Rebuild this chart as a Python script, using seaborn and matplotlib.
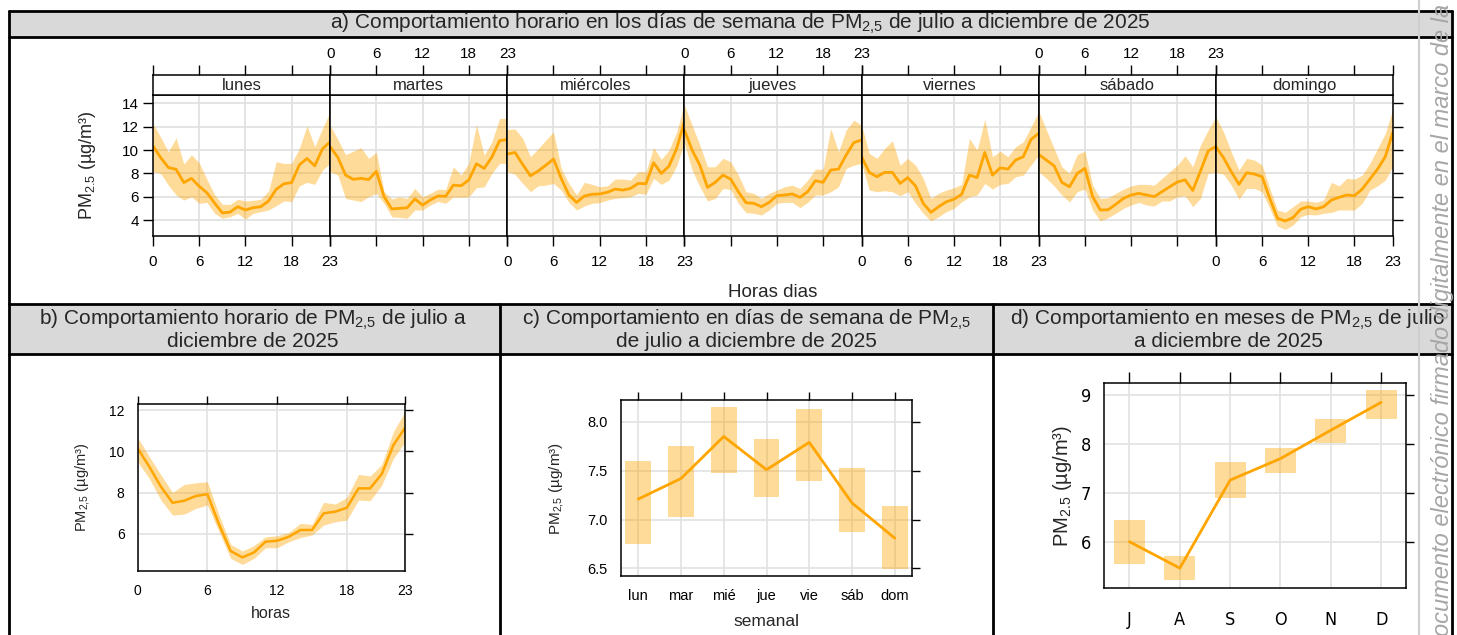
import numpy as np
import pandas as pd
import matplotlib
matplotlib.use("Agg")
import matplotlib.pyplot as plt
import seaborn as sns
from matplotlib.patches import Rectangle
from matplotlib import font_manager as fm

# ---------------- data ----------------
hours = list(range(24))
days = ["lunes", "martes", "miércoles", "jueves", "viernes", "sábado", "domingo"]

lunes_mean = [10.35, 9.35, 8.5, 8.35, 7.22, 7.58, 6.9, 6.35, 5.47, 4.63, 4.7, 5.16, 4.88, 5.08, 5.16, 5.65, 6.65, 7.12, 7.22, 8.73, 9.28, 8.65, 10.1, 10.7]
lunes_lo = [8.15, 8.0, 7.0, 6.16, 5.73, 6.0, 5.45, 5.53, 4.6, 4.17, 4.3, 4.6, 4.1, 4.6, 4.74, 4.88, 5.25, 5.65, 5.6, 6.94, 7.24, 7.07, 8.29, 8.86]
lunes_hi = [12.27, 11.08, 9.85, 11.05, 8.8, 9.6, 8.9, 7.5, 6.2, 5.36, 5.36, 5.8, 5.65, 5.7, 5.8, 6.5, 9.0, 8.86, 8.86, 10.14, 12.07, 10.28, 11.84, 13.26]

martes_mean = [10.28, 9.37, 7.86, 7.5, 7.58, 7.48, 8.18, 6.02, 4.97, 5.02, 5.07, 5.82, 5.3, 5.73, 6.08, 6.05, 7.0, 6.95, 7.44, 8.83, 8.43, 9.4, 10.8, 10.9]
martes_lo = [8.15, 7.86, 5.87, 5.73, 5.6, 6.02, 6.3, 5.45, 4.3, 4.25, 4.17, 4.88, 4.88, 5.3, 5.6, 5.45, 6.0, 5.95, 6.0, 6.78, 6.85, 8.0, 8.86, 8.86]
martes_hi = [12.1, 10.9, 9.6, 9.9, 10.2, 9.29, 9.8, 6.44, 5.82, 6.0, 5.87, 6.72, 6.0, 6.3, 6.66, 6.63, 8.57, 7.86, 8.86, 12.18, 9.57, 10.7, 12.7, 12.7]

miercoles_mean = [9.65, 9.79, 8.77, 7.8, 8.2, 8.7, 9.23, 7.58, 6.16, 5.53, 6.07, 6.22, 6.25, 6.39, 6.66, 6.58, 6.72, 7.15, 7.12, 8.91, 8.0, 8.63, 10.14, 12.45]
miercoles_lo = [8.15, 7.93, 7.15, 6.44, 6.94, 7.0, 7.15, 6.58, 5.53, 4.88, 5.22, 5.45, 5.5, 5.73, 5.87, 5.93, 6.0, 6.3, 6.22, 7.58, 7.07, 7.43, 8.65, 10.7]
miercoles_hi = [11.75, 11.8, 11.0, 9.43, 10.1, 10.85, 11.55, 8.43, 7.15, 6.16, 7.24, 7.07, 6.86, 6.94, 7.52, 7.52, 7.43, 8.15, 8.15, 10.22, 9.2, 10.0, 11.55, 14.0]

jueves_mean = [11.7, 9.99, 8.71, 6.81, 7.24, 7.86, 7.52, 6.44, 5.5, 5.45, 5.16, 5.53, 6.1, 6.16, 6.25, 5.96, 6.44, 7.38, 7.24, 8.29, 8.37, 9.57, 10.64, 10.85]
jueves_lo = [10.56, 8.29, 6.86, 5.65, 5.87, 6.72, 6.63, 5.45, 4.65, 4.6, 4.45, 4.88, 5.45, 5.53, 5.53, 5.08, 5.53, 6.16, 6.16, 6.44, 6.86, 8.43, 8.71, 8.86]
jueves_hi = [13.83, 12.12, 10.42, 8.57, 8.57, 9.29, 9.0, 7.86, 6.44, 6.3, 5.87, 6.3, 6.58, 6.86, 7.0, 6.72, 7.43, 8.37, 8.37, 11.84, 9.85, 11.7, 12.55, 12.12]

viernes_mean = [9.43, 8.09, 7.72, 8.09, 8.09, 7.15, 7.64, 6.94, 5.45, 4.68, 5.16, 5.58, 5.8, 6.22, 7.86, 7.65, 9.79, 7.86, 8.48, 8.37, 9.14, 9.43, 10.9, 11.42]
viernes_lo = [8.86, 6.58, 6.44, 6.52, 6.44, 6.1, 6.44, 5.45, 4.6, 3.94, 4.3, 4.74, 5.02, 5.58, 6.0, 6.16, 7.15, 6.66, 7.07, 7.15, 7.72, 7.86, 8.71, 9.57]
viernes_hi = [12.12, 9.71, 9.29, 10.14, 10.79, 8.71, 9.29, 8.71, 7.58, 5.87, 6.3, 6.58, 6.78, 7.07, 10.99, 9.99, 12.63, 9.43, 9.91, 9.43, 10.28, 10.7, 11.98, 13.26]

sabado_mean = [9.62, 9.14, 8.65, 7.24, 6.86, 8.0, 8.43, 6.02, 4.88, 4.9, 5.36, 5.87, 6.16, 6.3, 6.16, 6.02, 6.44, 6.86, 7.27, 7.45, 6.55, 8.2, 9.92, 10.3]
sabado_lo = [8.15, 7.58, 6.94, 6.16, 5.58, 6.44, 6.66, 4.88, 3.94, 4.22, 4.6, 5.02, 5.3, 5.53, 5.3, 5.22, 5.65, 5.65, 6.0, 6.1, 5.16, 5.87, 8.0, 8.09]
sabado_hi = [13.32, 11.7, 10.14, 8.57, 8.0, 9.62, 9.91, 7.0, 5.87, 5.93, 6.3, 6.66, 6.94, 7.07, 7.07, 7.0, 7.58, 8.15, 8.71, 9.5, 8.57, 10.42, 11.7, 12.83]

domingo_mean = [10.28, 9.34, 8.15, 7.07, 8.06, 7.95, 7.72, 5.87, 4.17, 3.94, 4.22, 4.94, 5.16, 4.97, 5.16, 5.73, 5.96, 6.16, 6.1, 6.66, 7.52, 8.37, 9.43, 11.55]
domingo_lo = [8.09, 7.93, 7.0, 5.8, 6.72, 6.72, 6.44, 5.02, 3.5, 3.22, 3.58, 4.3, 4.5, 4.45, 4.6, 4.68, 4.88, 4.88, 4.88, 5.45, 6.58, 6.94, 7.43, 8.65]
domingo_hi = [12.83, 11.55, 9.85, 8.29, 9.29, 9.14, 8.71, 6.72, 4.88, 4.68, 5.16, 5.65, 5.65, 5.53, 5.73, 7.24, 6.94, 7.58, 7.52, 7.86, 8.86, 10.14, 11.42, 13.55]

hourly_mean = [10.14, 9.25, 8.28, 7.5, 7.6, 7.83, 7.92, 6.45, 5.16, 4.85, 5.09, 5.61, 5.66, 5.85, 6.18, 6.18, 6.99, 7.07, 7.26, 8.2, 8.2, 8.9, 10.3, 11.14]
hourly_lo = [9.49, 8.68, 7.63, 6.9, 6.95, 7.23, 7.39, 6.1, 4.8, 4.51, 4.8, 5.32, 5.32, 5.61, 5.81, 5.94, 6.42, 6.58, 6.66, 7.63, 7.6, 8.36, 9.65, 10.46]
hourly_hi = [10.66, 9.74, 8.85, 8.0, 8.39, 8.47, 8.52, 6.9, 5.48, 5.16, 5.42, 5.85, 5.9, 6.06, 6.5, 6.45, 7.52, 7.44, 7.76, 8.88, 8.8, 9.36, 10.95, 11.92]

weekdays = ["lun", "mar", "mié", "jue", "vie", "sáb", "dom"]
weekday_mean = [7.21, 7.42, 7.85, 7.51, 7.79, 7.17, 6.81]
weekday_lo = [6.75, 7.03, 7.48, 7.23, 7.39, 6.87, 6.49]
weekday_hi = [7.6, 7.75, 8.15, 7.82, 8.13, 7.53, 7.14]

months = ["J", "A", "S", "O", "N", "D"]
month_mean = [6.0, 5.46, 7.26, 7.7, 8.28, 8.85]
month_lo = [5.55, 5.22, 6.9, 7.41, 8.01, 8.5]
month_hi = [6.44, 5.71, 7.64, 7.91, 8.52, 9.1]

day_means = [lunes_mean, martes_mean, miercoles_mean, jueves_mean, viernes_mean, sabado_mean, domingo_mean]
day_los = [lunes_lo, martes_lo, miercoles_lo, jueves_lo, viernes_lo, sabado_lo, domingo_lo]
day_his = [lunes_hi, martes_hi, miercoles_hi, jueves_hi, viernes_hi, sabado_hi, domingo_hi]

# ---------------- style ----------------
sns.set_style("white")
plt.rcParams["font.family"] = ["Liberation Sans", "DejaVu Sans"]
plt.rcParams["mathtext.fontset"] = "custom"
plt.rcParams["mathtext.rm"] = "Liberation Sans"
plt.rcParams["mathtext.it"] = "Liberation Sans"
plt.rcParams["mathtext.default"] = "regular"


def find_narrow_sans():
    best = None
    best_rank = 99
    for f in fm.fontManager.ttflist:
        name = f.name.lower()
        fname = f.fname.lower()
        if "mono" in name or "serif" in name or "mono" in fname:
            continue
        if f.style != "normal" or f.weight not in (400, "normal", "regular"):
            continue
        tag = name + " " + str(f.stretch).lower() + " " + fname
        if not ("narrow" in tag or "condensed" in tag):
            continue
        if "semi" in tag or "extra" in tag or "ultra" in tag:
            continue
        if "liberation" in tag:
            rank = 0
        elif "dejavu" in tag:
            rank = 1
        elif "roboto" in tag:
            rank = 2
        else:
            rank = 3
        if rank < best_rank:
            best, best_rank = f.fname, rank
    return best


narrow_path = find_narrow_sans()
NARROW = fm.FontProperties(fname=narrow_path) if narrow_path else fm.FontProperties(family="Liberation Sans")

ORANGE = "#FFA500"
GRID = "#e2e2e2"
W, H = 1457, 635
fig = plt.figure(figsize=(W / 100, H / 100), dpi=100)


def ax_px(x0, y0, x1, y1, **kw):
    return fig.add_axes([x0 / W, 1 - y1 / H, (x1 - x0) / W, (y1 - y0) / H], **kw)


# frame overlay (boxes and title bands)
fr = fig.add_axes([0, 0, 1, 1], zorder=-5)
fr.set_xlim(0, W)
fr.set_ylim(H, 0)
fr.axis("off")
BLW = 2.0
fr.add_patch(Rectangle((8.5, 11), 1452 - 8.5, 26, facecolor="#d9d9d9", edgecolor="none"))
fr.plot([8.5, 1452], [11, 11], color="black", lw=BLW)
fr.plot([8.5, 1452], [37, 37], color="black", lw=BLW)
fr.plot([8.5, 1452], [303.5, 303.5], color="black", lw=BLW)
fr.plot([8.5, 8.5], [11, H + 5], color="black", lw=BLW)
fr.plot([1452, 1452], [11, H + 5], color="black", lw=BLW)
fr.add_patch(Rectangle((8.5, 303.5), 1452 - 8.5, 50, facecolor="#d9d9d9", edgecolor="none"))
fr.plot([8.5, 1452], [353.5, 353.5], color="black", lw=BLW)
for xb in (500, 992.5):
    fr.plot([xb, xb], [303.5, H + 5], color="black", lw=BLW)

TFS = 15
fr.text(740, 24, "a) Comportamiento horario en los días de semana de PM$_{2{,}5}$ de julio a diciembre de 2025",
        ha="center", va="center", fontsize=TFS)
fr.text(253, 329, "b) Comportamiento horario de PM$_{2{,}5}$ de julio a\ndiciembre de 2025",
        ha="center", va="center", fontsize=TFS, linespacing=1.0)
fr.text(746, 329, "c) Comportamiento en días de semana de PM$_{2{,}5}$\nde julio a diciembre de 2025",
        ha="center", va="center", fontsize=TFS, linespacing=1.0)
fr.text(1228, 329, "d) Comportamiento en meses de PM$_{2{,}5}$ de julio\na diciembre de 2025",
        ha="center", va="center", fontsize=TFS, linespacing=1.0)

# ---------------- panel a ----------------
rows = []
for d, m, lo, hi in zip(days, day_means, day_los, day_his):
    for h, a, b, c in zip(hours, m, lo, hi):
        rows.append({"dia": d, "hora": h, "media": a, "inf": b, "sup": c})
df = pd.DataFrame(rows)

X0, X1 = 153, 1393
PW = (X1 - X0) / 7
YS0, YS1, YP1 = 75, 94.5, 236
YLIM = (2.66, 14.74)
XT = [0, 6, 12, 18, 23]
TL = 7.0
for i, d in enumerate(days):
    xa = X0 + i * PW
    xb = xa + PW
    ax = ax_px(xa, YS1, xb, YP1)
    sub = df[df["dia"] == d]
    ax.fill_between(sub["hora"], sub["inf"], sub["sup"], color=ORANGE, alpha=0.4, lw=0)
    sns.lineplot(data=sub, x="hora", y="media", color=ORANGE, lw=2.0, ax=ax)
    ax.set_xlim(0, 23)
    ax.set_ylim(*YLIM)
    ax.set_xticks(XT)
    ax.set_yticks([4, 6, 8, 10, 12, 14])
    ax.grid(True, color=GRID, lw=1.3)
    ax.set_axisbelow(True)
    ax.set_xlabel("")
    ax.set_ylabel("")
    for s in ax.spines.values():
        s.set_color("black")
        s.set_linewidth(1.1)
    ax.tick_params(axis="x", bottom=True, top=False, labelbottom=(i % 2 == 0), labeltop=False,
                   direction="out", length=TL, width=1, pad=6.5, labelsize=11, colors="black")
    ax.tick_params(axis="y", left=(i == 0), right=(i == 6), labelleft=(i == 0), labelright=False,
                   direction="out", length=TL, width=1, pad=3, labelsize=11, colors="black")
    if i == 0:
        ax.set_ylabel("PM$_{2.5}$ (µg/m³)", fontsize=13)
        ax.yaxis.set_label_coords(-0.37, 0.5)
        ax.yaxis.label.set_va("center")
    if i == 3:
        ax.set_xlabel("Horas dias", fontsize=13.5)
        ax.xaxis.set_label_coords(0.5, -(292 - YP1) / (YP1 - YS1))
        ax.xaxis.label.set_va("center")
    st = ax_px(xa, YS0, xb, YS1)
    st.set_xlim(0, 23)
    st.set_ylim(0, 1)
    st.set_xticks(XT)
    st.set_yticks([])
    st.tick_params(axis="x", bottom=False, top=True, labelbottom=False, labeltop=(i % 2 == 1),
                   direction="out", length=TL, width=1, pad=3, labelsize=11, colors="black")
    for s in st.spines.values():
        s.set_color("black")
        s.set_linewidth(1.1)
    st.text(11.5, 0.45, d, ha="center", va="center", fontsize=12)

# ---------------- panel b ----------------
dfb = pd.DataFrame({"horas": hours, "media": hourly_mean, "inf": hourly_lo, "sup": hourly_hi})
axb = ax_px(137.7, 403.7, 405, 571)
axb.fill_between(dfb["horas"], dfb["inf"], dfb["sup"], color=ORANGE, alpha=0.4, lw=0)
sns.lineplot(data=dfb, x="horas", y="media", color=ORANGE, lw=1.8, ax=axb)
axb.set_xlim(0, 23)
axb.set_ylim(4.19, 12.31)
axb.set_xticks(XT)
axb.set_yticks([6, 8, 10, 12])
axb.set_ylabel("PM$_{2{,}5}$ (µg/m³)", fontsize=10.5)
axb.set_xlabel("horas", fontsize=11.5)

# ---------------- panel c ----------------
xc = np.arange(len(weekdays))
axc = ax_px(620.7, 400.3, 912.3, 576.3)
axc.bar(xc, np.array(weekday_hi) - np.array(weekday_lo), bottom=weekday_lo, width=0.6,
        color=ORANGE, alpha=0.4, lw=0)
sns.lineplot(x=xc, y=weekday_mean, color=ORANGE, lw=2.0, ax=axc)
axc.set_xlim(-0.41, 6.41)
axc.set_ylim(6.42, 8.22)
axc.set_xticks(xc)
axc.set_xticklabels(weekdays)
axc.set_yticks([6.5, 7.0, 7.5, 8.0])
axc.set_yticklabels(["6.5", "7.0", "7.5", "8.0"])
axc.set_ylabel("PM$_{2{,}5}$ (µg/m³)", fontsize=11)
axc.set_xlabel("semanal", fontsize=12.5)

# ---------------- panel d ----------------
xd = np.arange(len(months))
axd = ax_px(1104.3, 383.3, 1406.3, 587.7)
axd.bar(xd, np.array(month_hi) - np.array(month_lo), bottom=month_lo, width=0.62,
        color=ORANGE, alpha=0.4, lw=0)
sns.lineplot(x=xd, y=month_mean, color=ORANGE, lw=2.0, ax=axd)
axd.set_xlim(-0.5, 5.5)
axd.set_ylim(5.06, 9.24)
axd.set_xticks(xd)
axd.set_xticklabels(months)
axd.set_yticks([6, 7, 8, 9])
axd.set_ylabel("PM$_{2.5}$ (µg/m³)", fontsize=14.5)

for ax in (axb, axc, axd):
    ax.grid(True, color=GRID, lw=1.2)
    ax.set_axisbelow(True)
    for s in ax.spines.values():
        s.set_color("black")
        s.set_linewidth(1.1)
    ax.tick_params(axis="both", top=True, right=True, labeltop=False, labelright=False,
                   direction="out", length=5.5, width=1, colors="black")

axb.tick_params(labelsize=10, pad=4)
axc.tick_params(labelsize=10.5, pad=4)
axd.tick_params(axis="x", length=8, pad=9)
axd.tick_params(axis="y", pad=4)
for lab in axd.get_xticklabels() + axd.get_yticklabels():
    lab.set_fontproperties(NARROW)
    lab.set_fontsize(13)


def place_xlabel(ax, y_px, y0, y1):
    ax.xaxis.set_label_coords(0.5, -(y_px - y1) / (y1 - y0))
    ax.xaxis.label.set_va("center")


def place_ylabel(ax, x_px, x0, x1):
    ax.yaxis.set_label_coords((x_px - x0) / (x1 - x0), 0.5)
    ax.yaxis.label.set_va("center")


place_xlabel(axb, 614, 403.7, 571)
place_ylabel(axb, 82, 137.7, 405)
place_xlabel(axc, 621.5, 400.3, 576.3)
place_ylabel(axc, 557, 620.7, 912.3)
place_ylabel(axd, 1062, 1104.3, 1406.3)

# watermark on the right margin
fr.plot([1419, 1419], [0, H], color="#cfcfcf", lw=1.5, zorder=10)
fr.text(1442, 636, "ocumento electrónico firmado digitalmente en el marco de la",
        rotation=90, ha="center", va="bottom", fontsize=17, style="italic",
        color="#a6a6a6", zorder=10)

fig.savefig("out.png", dpi=100)
